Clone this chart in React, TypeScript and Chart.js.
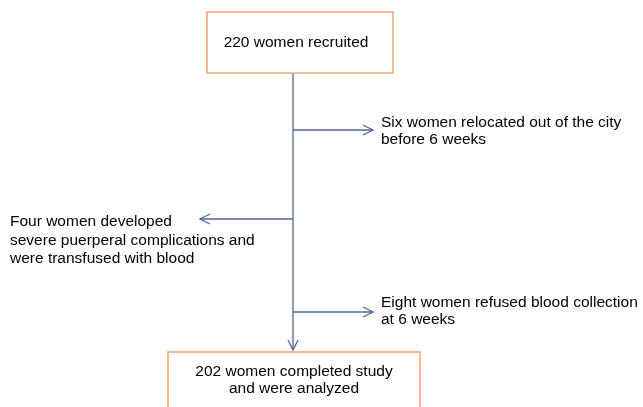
import React, { useEffect, useRef } from "react";
import { Chart, registerables } from "chart.js";

Chart.register(...registerables);

// Boxes (in axis units: x 0..643, y 0..407 top-down)
const boxLabels: string[][] = [["220 women recruited"], ["202 women completed study", "and were analyzed"]];
const boxLeft = [207, 168];
const boxRight = [393, 420];
const boxTop = [12, 352];
const boxBottom = [73, 415];
const boxTextCenter = [296, 294];
const boxBaseline = [47, 376];

// Trunk
const trunkX = 293;
const trunkTop = 73;
const trunkTip = 350;

// Side exits
const exitY = [130, 219, 312];
const exitTipX = [373, 200, 373];
const exitLabels: string[][] = [
  ["Six women relocated out of the city", "before 6 weeks"],
  ["Four women developed", "severe puerperal complications and", "were transfused with blood"],
  ["Eight women refused blood collection", "at 6 weeks"],
];
const exitTextX = [381, 10, 381];
const exitBaseline = [127, 226, 307];
const exitLineGap = [16.5, 18.5, 16.5];

const LINE = "#51698F";
const BORDER = "#F2A46E";
const FONT = '15.5px "Liberation Sans", Arial, sans-serif';

export default function App() {
  const ref = useRef<HTMLCanvasElement | null>(null);
  useEffect(() => {
    document.body.style.margin = "0";
    const canvas = ref.current!;
    const datasets: any[] = [
      {
        data: [
          { x: trunkX, y: trunkTop },
          { x: trunkX, y: trunkTip },
        ],
        showLine: true,
        borderColor: LINE,
        borderWidth: 1.3,
        pointRadius: 0,
      },
      ...exitY.map((y, i) => ({
        data: [
          { x: trunkX, y },
          { x: exitTipX[i], y },
        ],
        showLine: true,
        borderColor: LINE,
        borderWidth: 1.3,
        pointRadius: 0,
      })),
    ];
    const flowPlugin = {
      id: "flow",
      afterDatasetsDraw(chart: any) {
        const ctx = chart.ctx as CanvasRenderingContext2D;
        const xs = chart.scales.x;
        const ys = chart.scales.y;
        const px = (v: number) => xs.getPixelForValue(v);
        const py = (v: number) => ys.getPixelForValue(v);
        ctx.save();
        // boxes
        ctx.strokeStyle = BORDER;
        ctx.lineWidth = 1.5;
        boxLabels.forEach((lines, i) => {
          const l = px(boxLeft[i]), r = px(boxRight[i]);
          const t = py(boxTop[i]), b = py(boxBottom[i]);
          ctx.strokeRect(l, t, r - l, b - t);
          ctx.fillStyle = "#000";
          ctx.font = FONT;
          ctx.textAlign = "center";
          ctx.textBaseline = "alphabetic";
          const cx = px(boxTextCenter[i]);
          lines.forEach((s, k) => ctx.fillText(s, cx, py(boxBaseline[i] + k * 17)));
        });
        // arrowheads
        ctx.strokeStyle = LINE;
        ctx.lineWidth = 1.3;
        const head = (x: number, y: number, dx: number, dy: number) => {
          const len = 10, w = 5;
          const nx = -dy, ny = dx;
          ctx.beginPath();
          ctx.moveTo(x - dx * len + nx * w, y - dy * len + ny * w);
          ctx.lineTo(x, y);
          ctx.lineTo(x - dx * len - nx * w, y - dy * len - ny * w);
          ctx.stroke();
        };
        head(px(trunkX), py(trunkTip), 0, 1);
        exitY.forEach((y, i) => {
          const dir = exitTipX[i] > trunkX ? 1 : -1;
          head(px(exitTipX[i]), py(y), dir, 0);
        });
        // exit texts
        ctx.fillStyle = "#000";
        ctx.font = FONT;
        ctx.textAlign = "left";
        ctx.textBaseline = "alphabetic";
        exitLabels.forEach((lines, i) => {
          lines.forEach((s, k) =>
            ctx.fillText(s, px(exitTextX[i]), py(exitBaseline[i] + k * exitLineGap[i]))
          );
        });
        ctx.restore();
      },
    };
    const chart = new Chart(canvas, {
      type: "scatter",
      data: { datasets },
      options: {
        animation: false,
        responsive: false,
        maintainAspectRatio: false,
        layout: { padding: 0 },
        plugins: { legend: { display: false }, tooltip: { enabled: false } },
        scales: {
          x: { type: "linear", min: 0, max: 643, display: false },
          y: { type: "linear", min: 0, max: 407, reverse: true, display: false },
        },
      },
      plugins: [flowPlugin],
    });
    return () => chart.destroy();
  }, []);
  return (
    <div style={{ position: "absolute", left: 0, top: 0, width: 643, height: 407, background: "#fff" }}>
      <canvas ref={ref} width={643} height={407} style={{ display: "block" }} />
    </div>
  );
}
